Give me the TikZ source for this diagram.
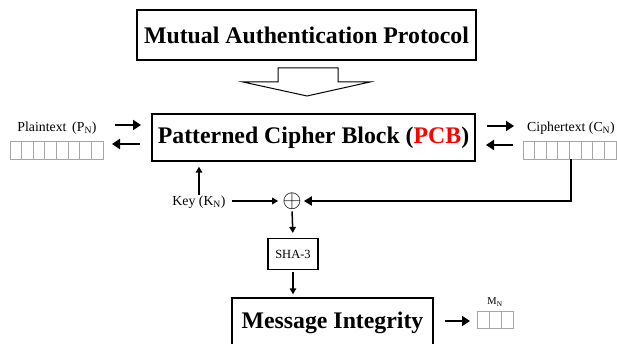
\documentclass[tikz,border=0pt]{standalone}
\usepackage{fontspec}
\setmainfont{Liberation Serif}
\usetikzlibrary{arrows.meta}
\tikzset{
  bigbox/.style={draw,line width=1.4pt,inner sep=0pt,font=\bfseries\fontsize{23.8}{26}\selectfont},
  smallbox/.style={draw,line width=1.2pt,inner sep=0pt,font=\fontsize{12.5}{14}\selectfont},
  lbl/.style={inner sep=1pt,font=\fontsize{13.8}{16}\selectfont},
  thickarr/.style={line width=2.4pt,-{Triangle[length=8pt,width=10pt]}},
  thinarr/.style={line width=1.5pt,-{Triangle[length=6pt,width=6.5pt]}},
  cell/.style={draw=gray!70,line width=0.8pt},
}
\begin{document}
\begin{tikzpicture}[x=1pt,y=-1pt]
\useasboundingbox (0,0) rectangle (617,344);
% top box
\node[bigbox,minimum width=339pt,minimum height=50pt] (map) at (306.5,35) {Mutual Authentication Protocol};
% hollow arrow
\draw[line width=1pt] (278,68) -- (338,68) -- (338,82) -- (370,82) -- (307,96) -- (243,82) -- (278,82) -- cycle;
% PCB
\node[bigbox,minimum width=323pt,minimum height=47pt] (pcb) at (313.5,137.5) {Patterned Cipher Block (\textcolor{red}{PCB})};
% plaintext
\node[lbl] (pl) at (57,128) {Plaintext\, (P\textsubscript{N})};
\node[draw=gray!70,line width=0.8pt,minimum width=93pt,minimum height=18pt,inner sep=0pt] (parr) at (56.5,150) {};
\foreach \i in {1,...,7} \draw[cell] ({10+\i*93/8},141) -- ({10+\i*93/8},159);
% ciphertext
\node[lbl] (cl) at (571,128) {Ciphertext (C\textsubscript{N})};
\node[draw=gray!70,line width=0.8pt,minimum width=93pt,minimum height=18pt,inner sep=0pt] (carr) at (569.5,150) {};
\foreach \i in {1,...,7} \draw[cell] ({523+\i*93/8},141) -- ({523+\i*93/8},159);
% arrows plaintext <-> PCB
\coordinate (pa1) at (115,125);
\coordinate (pa2) at (141,125);
\coordinate (pb1) at (140,144);
\coordinate (pb2) at (112,144);
\draw[thickarr] (pa1) -- (pa2);
\draw[thickarr] (pb1) -- (pb2);
% arrows PCB <-> ciphertext
\coordinate (ca1) at (487,126);
\coordinate (ca2) at (514,126);
\coordinate (cb1) at (513,145);
\coordinate (cb2) at (486,145);
\draw[thickarr] (ca1) -- (ca2);
\draw[thickarr] (cb1) -- (cb2);
% key and xor
\node[lbl] (key) at (199,202) {Key (K\textsubscript{N})};
\node[inner sep=0pt,font=\fontsize{28}{28}\selectfont] (xor) at (292,201) {$\oplus$};
\draw[thinarr,shorten >=5pt] (key.north) -- (key.north |- pcb.south);
\draw[thinarr,shorten <=5pt,shorten >=4pt] (key.east |- xor.west) -- (xor.west);
\coordinate (cdown) at (571,159);
\draw[line width=2.2pt,-{Triangle[length=8pt,width=9pt]},shorten >=2pt] (cdown) -- (571,201) -- (xor.east);
% SHA-3
\node[smallbox,minimum width=50pt,minimum height=31pt] (sha) at (293,254) {SHA-3};
\draw[thinarr,shorten <=2pt,shorten >=5pt] (xor.south) -- (sha.north);
% message integrity
\node[bigbox,minimum width=201pt,minimum height=50pt] (mi) at (332.5,323) {Message Integrity};
\draw[thinarr,shorten <=2pt,shorten >=3pt] (sha.south) -- (sha.south |- mi.north);
\coordinate (ma1) at (445,321);
\coordinate (ma2) at (470,321);
\draw[thickarr] (ma1) -- (ma2);
\node[lbl,font=\fontsize{10.5}{12}\selectfont] (mn) at (495,302) {M\textsubscript{N}};
\node[draw=gray!70,line width=0.8pt,minimum width=36pt,minimum height=17pt,inner sep=0pt] (marr) at (495,320) {};
\draw[cell] (489,311.5) -- (489,328.5);
\draw[cell] (501,311.5) -- (501,328.5);
\end{tikzpicture}
\end{document}
